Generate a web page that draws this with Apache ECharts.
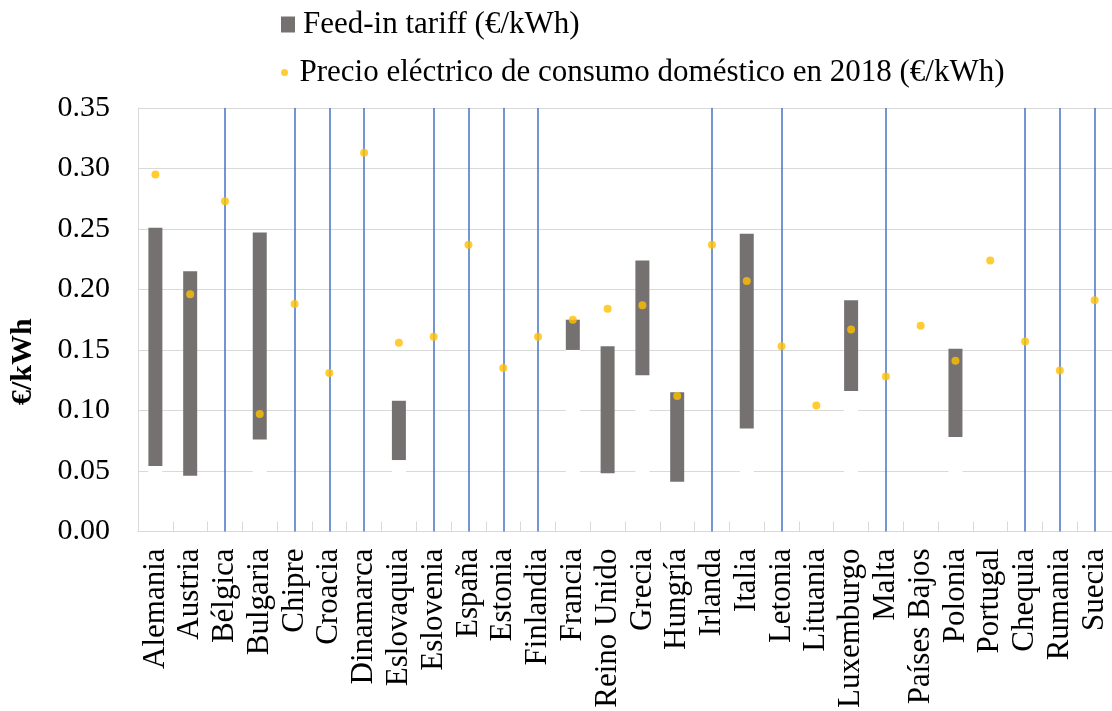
<!DOCTYPE html>
<html>
<head>
<meta charset="utf-8">
<script src="https://cdn.jsdelivr.net/npm/echarts@6/dist/echarts.min.js"></script>
<style>
  html, body { margin: 0; padding: 0; background: #fff; }
  #chart { width: 1112px; height: 711px; }
</style>
</head>
<body>
<div id="chart"></div>
<script>
// EU member states on the category axis
const categories = [
  'Alemania', 'Austria', 'Bélgica', 'Bulgaria', 'Chipre', 'Croacia', 'Dinamarca',
  'Eslovaquia', 'Eslovenia', 'España', 'Estonia', 'Finlandia', 'Francia', 'Reino Unido',
  'Grecia', 'Hungría', 'Irlanda', 'Italia', 'Letonia', 'Lituania', 'Luxemburgo',
  'Malta', 'Países Bajos', 'Polonia', 'Portugal', 'Chequia', 'Rumania', 'Suecia'
];

// Feed-in tariff range (€/kWh): lowest and highest tariff per country
const fitLow = [
  0.054, 0.046, null, 0.076, null, null, null,
  0.059, null, null, null, null, 0.150, 0.048,
  0.129, 0.041, null, 0.085, null, null, 0.116,
  null, null, 0.078, null, null, null, null
];
const fitHigh = [
  0.251, 0.215, null, 0.247, null, null, null,
  0.108, null, null, null, null, 0.175, 0.153,
  0.224, 0.115, null, 0.246, null, null, 0.191,
  null, null, 0.151, null, null, null, null
];

// Household electricity price in 2018 (€/kWh)
const price = [
  0.295, 0.196, 0.273, 0.097, 0.188, 0.131, 0.313,
  0.156, 0.161, 0.237, 0.135, 0.161, 0.175, 0.184,
  0.187, 0.112, 0.237, 0.207, 0.153, 0.104, 0.167,
  0.128, 0.170, 0.141, 0.224, 0.157, 0.133, 0.191
];

// Countries marked with a vertical reference line
const markedCountries = [
  'Bélgica', 'Chipre', 'Croacia', 'Dinamarca', 'Eslovenia', 'España', 'Estonia',
  'Finlandia', 'Irlanda', 'Letonia', 'Malta', 'Chequia', 'Rumania', 'Suecia'
];

const yTicks = { min: 0, max: 0.35, interval: 0.05 };

const fitName = 'Feed-in tariff (€/kWh)';
const priceName = 'Precio eléctrico de consumo doméstico en 2018 (€/kWh)';

const fitSpan = fitHigh.map((h, i) => (h == null || fitLow[i] == null) ? null : +(h - fitLow[i]).toFixed(4));

const serif = '"Liberation Serif", "Times New Roman", serif';

const chart = echarts.init(document.getElementById('chart'), null, { renderer: 'canvas' });

chart.setOption({
  animation: false,
  backgroundColor: '#ffffff',
  textStyle: { fontFamily: serif },
  legend: [
    {
      data: [fitName],
      left: 276,
      top: 4,
      orient: 'vertical',
      itemWidth: 14,
      itemHeight: 16,
      icon: 'rect',
      selectedMode: false,
      textStyle: { fontFamily: serif, fontSize: 31, color: '#000', padding: [0, 0, 0, 3] }
    },
    {
      data: [priceName],
      left: 276,
      top: 52,
      orient: 'vertical',
      itemWidth: 14,
      itemHeight: 7,
      icon: 'circle',
      selectedMode: false,
      textStyle: { fontFamily: serif, fontSize: 31, color: '#000', padding: [0, 0, 0, 3] }
    }
  ],
  grid: {
    left: 137,
    top: 108,
    width: 980,
    height: 424,
    containLabel: false
  },
  xAxis: {
    type: 'category',
    data: categories,
    z: 4,
    boundaryGap: true,
    axisLine: { show: true, lineStyle: { color: '#d9d9d9', width: 1 } },
    axisTick: { show: true, inside: true, length: 10, lineStyle: { color: '#d9d9d9' } },
    axisLabel: {
      interval: 0,
      rotate: 90,
      margin: 17,
      fontFamily: serif,
      fontSize: 31,
      color: '#000'
    },
    splitLine: { show: false }
  },
  yAxis: {
    type: 'value',
    min: yTicks.min,
    max: yTicks.max,
    interval: yTicks.interval,
    name: '€/kWh',
    nameLocation: 'middle',
    nameRotate: 90,
    nameGap: 100,
    nameTextStyle: {
      fontFamily: serif,
      fontSize: 30,
      fontWeight: 'bold',
      color: '#000',
      padding: [0, 84, 0, 0]
    },
    axisLine: { show: true, lineStyle: { color: '#d9d9d9', width: 1 } },
    axisTick: { show: false },
    axisLabel: {
      margin: 28,
      fontFamily: serif,
      fontSize: 30,
      color: '#000',
      formatter: v => v.toFixed(2)
    },
    splitLine: { show: true, lineStyle: { color: '#d9d9d9', width: 1 } }
  },
  series: [
    {
      // floor of each floating bar (white, hides the grid behind it)
      name: 'base',
      type: 'bar',
      stack: 'fit',
      barWidth: 14,
      data: fitLow,
      itemStyle: { color: '#ffffff' },
      silent: true,
      markLine: {
        silent: true,
        symbol: 'none',
        label: { show: false },
        lineStyle: { color: '#4472c4', width: 1.5, type: 'solid' },
        data: markedCountries.map(c => ({ xAxis: c }))
      }
    },
    {
      name: fitName,
      type: 'bar',
      stack: 'fit',
      barWidth: 14,
      data: fitSpan,
      itemStyle: { color: '#757171' }
    },
    {
      name: priceName,
      type: 'scatter',
      z: 5,
      symbol: 'circle',
      symbolSize: 8,
      data: price,
      itemStyle: { color: '#ffc000' }
    }
  ]
});
</script>
</body>
</html>
